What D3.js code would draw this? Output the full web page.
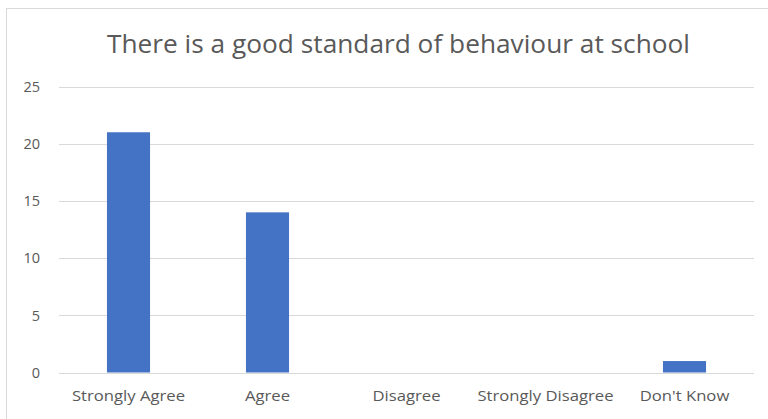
<!DOCTYPE html>
<html><head><meta charset="utf-8">
<script src="https://cdn.jsdelivr.net/npm/d3@7"></script>
<style>body{margin:0;background:#fff}svg{display:block}</style>
</head><body>
<script>
const categories = ["Strongly Agree","Agree","Disagree","Strongly Disagree","Don't Know"];
const values = [21,14,0,0,1];
const yTicks = [0,5,10,15,20,25];
const title = "There is a good standard of behaviour at school";

(function(){
const W = 768, H = 419;
const svg = d3.select("body").append("svg").attr("width",W).attr("height",H);
svg.append("rect").attr("x",6.5).attr("y",8.5).attr("width",800).attr("height",420)
  .attr("fill","#fff").attr("stroke","#d9d9d9");

const mLeft = 59, mRight = 754, mTop = 86.5, mBottom = 372.5;
const x = d3.scaleBand().domain(categories).range([mLeft,mRight]).paddingInner(0.69).paddingOuter(0.345);
const y = d3.scaleLinear().domain([0,25]).range([mBottom,mTop]);

const font = "'Open Sans', 'Noto Sans', sans-serif";
const grid = svg.append("g");
grid.selectAll("line").data(yTicks).join("line")
  .attr("x1",mLeft).attr("x2",mRight)
  .attr("y1",d=>Math.round(y(d))+0.5).attr("y2",d=>Math.round(y(d))+0.5)
  .attr("stroke","#d9d9d9").attr("stroke-width",1);

const yAxis = d3.axisLeft(y).tickValues(yTicks).tickSize(0).tickPadding(0);
const ya = svg.append("g").attr("transform",`translate(40,0)`).call(yAxis);
ya.select(".domain").remove();
ya.selectAll("text").attr("fill","#595959").attr("font-family",font).attr("font-size",14.5)
  .attr("dy","0.33em");

svg.append("g").selectAll("rect").data(values).join("rect")
  .attr("x",(d,i)=>x(categories[i])).attr("width",x.bandwidth())
  .attr("y",d=>y(d)).attr("height",d=>y(0)-y(d))
  .attr("fill","#4472c4");

const xAxis = d3.axisBottom(x).tickSize(0).tickPadding(0);
const xa = svg.append("g").attr("transform",`translate(0,${mBottom})`).call(xAxis);
xa.select(".domain").remove();
xa.selectAll("text").attr("fill","#595959").attr("font-family",font).attr("font-size",14.5)
  .attr("y",28.5).attr("dy",null).attr("transform","scale(1.15,1)");

svg.append("text").attr("x",398.5).attr("y",52.5).attr("text-anchor","middle")
  .attr("fill","#595959").attr("font-family",font).attr("font-size",26)
  .attr("textLength",583).attr("lengthAdjust","spacingAndGlyphs").text(title);
})();
</script>
</body></html>
